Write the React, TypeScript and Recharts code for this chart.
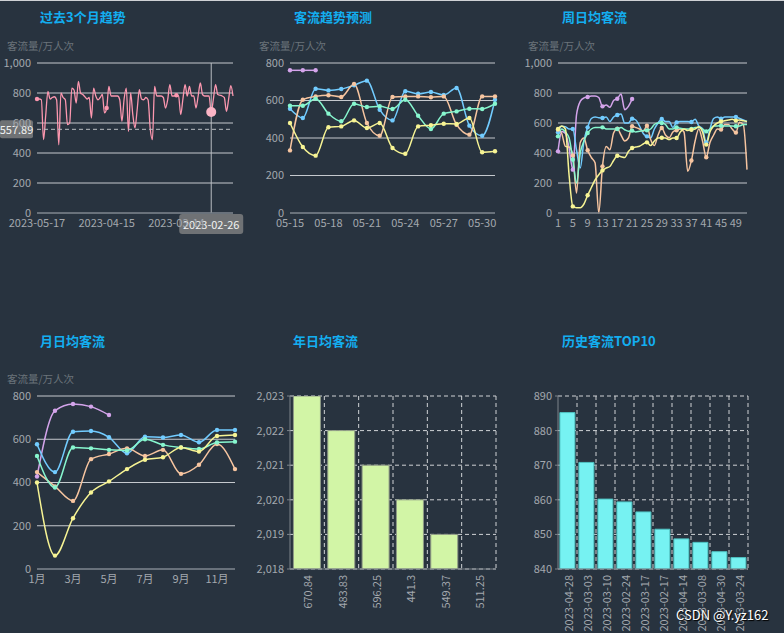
import React from 'react';
import {
  LineChart, Line, BarChart, Bar, XAxis, YAxis, CartesianGrid, ReferenceLine, ReferenceDot,
} from 'recharts';

const FONT = "'Noto Sans CJK SC', 'Noto Sans', sans-serif";
const BG = '#28333f';
const GRID = '#c5c9ce';
const AXIS = '#5d6670';
const TICK = '#a3a8ae';
const TITLE = '#13aef0';
const UNIT = '#6b737b';

const PINK = '#fc97af';
const GREEN = '#87f7cf';
const YELLOW = '#f7f494';
const BLUE = '#72ccff';
const PEACH = '#f7c5a0';
const PURPLE = '#d4a4eb';
const LIME = '#d2f5a6';
const CYAN = '#76f2f2';

// ---------- Chart 1: past 3 months ----------
const startDate = Date.UTC(2023, 4, 17);
const dates1: string[] = [];
for (let i = 0; i < 91; i++) {
  dates1.push(new Date(startDate - i * 86400000).toISOString().slice(0, 10));
}
const values1 = [
  760, 760, 755, 489, 650, 811, 760, 770, 775, 755,
  455, 800, 770, 755, 589, 600, 833, 820, 733, 878,
  800, 790, 775, 760, 770, 633, 833, 780, 755, 770,
  790, 667, 700, 844, 780, 780, 780, 780, 755, 611,
  760, 833, 544, 800, 655, 567, 690, 822, 760, 755,
  770, 755, 560, 489, 844, 780, 780, 780, 770, 700,
  755, 856, 780, 780, 785, 780, 656, 760, 856, 780,
  844, 780, 780, 700, 780, 867, 790, 780, 780, 780,
  673, 760, 856, 790, 785, 780, 770, 678, 760, 849,
  780,
];
const pointerDate = '2023-02-26';
const pointerValue = 673;
const pointerY = 557.89;
const data1 = dates1.map((d, i) => ({ d, v: values1[i] }));

// ---------- Chart 2: forecast ----------
const days2 = ['05-15', '05-16', '05-17', '05-18', '05-19', '05-20', '05-21', '05-22', '05-23', '05-24', '05-25', '05-26', '05-27', '05-28', '05-29', '05-30', '05-31'];
const purple2 = [761, 761, 761];
const blue2 = [556, 507, 663, 654, 661, 681, 706, 551, 494, 649, 636, 645, 629, 667, 466, 412, 604];
const peach2 = [334, 604, 622, 628, 619, 688, 480, 412, 619, 622, 622, 617, 622, 471, 418, 622, 622];
const green2 = [572, 572, 610, 530, 489, 583, 565, 569, 555, 604, 519, 448, 530, 542, 556, 555, 583];
const yellow2 = [480, 352, 306, 457, 462, 494, 453, 480, 347, 316, 462, 468, 476, 475, 507, 324, 329];

// ---------- Chart 3: weekly ----------
const weeks3 = Array.from({ length: 52 }, (_, i) => String(i + 1));
const purple3 = [411, 544, 530, 430, 289, 655, 744, 767, 773, 780, 780, 770, 711, 720, 705, 750, 762, 793, 689, 711, 760];
const blue3 = [538, 578, 575, 560, 560, 420, 300, 480, 571, 630, 640, 635, 633, 640, 610, 640, 653, 660, 600, 600, 629, 620, 580, 530, 511, 500, 560, 600, 627, 610, 610, 570, 604, 610, 610, 610, 607, 625, 580, 560, 471, 560, 630, 640, 629, 640, 640, 640, 640, 630, 620, 610];
const peach3 = [556, 530, 444, 440, 384, 133, 470, 500, 418, 370, 335, 0, 311, 444, 422, 533, 562, 520, 480, 500, 578, 570, 560, 545, 582, 490, 450, 520, 567, 520, 502, 540, 552, 560, 540, 278, 350, 480, 560, 480, 372, 470, 520, 560, 556, 590, 590, 560, 536, 605, 590, 289];
const green3 = [511, 560, 540, 500, 356, 200, 400, 480, 533, 560, 570, 570, 571, 560, 560, 560, 560, 570, 555, 545, 549, 540, 545, 550, 551, 560, 590, 600, 600, 590, 560, 560, 571, 565, 560, 560, 560, 570, 570, 560, 544, 560, 580, 580, 582, 580, 580, 580, 578, 580, 590, 590];
const yellow3 = [560, 580, 560, 250, 44, 35, 35, 60, 118, 170, 220, 255, 284, 300, 310, 350, 382, 375, 370, 410, 433, 440, 445, 460, 471, 450, 480, 500, 502, 500, 490, 500, 500, 540, 560, 550, 555, 560, 575, 540, 456, 540, 580, 600, 610, 615, 620, 625, 616, 620, 615, 610];

// ---------- Chart 4: monthly ----------
const months4 = ['1月', '2月', '3月', '4月', '5月', '6月', '7月', '8月', '9月', '10月', '11月', '12月'];
const purple4 = [428, 732, 763, 751, 712];
const blue4 = [577, 448, 635, 638, 609, 535, 612, 608, 620, 586, 643, 643];
const peach4 = [448, 382, 315, 508, 532, 558, 523, 551, 440, 482, 578, 462];
const green4 = [523, 377, 562, 558, 551, 548, 600, 574, 562, 555, 585, 589];
const yellow4 = [400, 62, 235, 354, 405, 462, 505, 517, 562, 543, 615, 620];

// ---------- Chart 5: yearly ----------
const avg5 = ['670.84', '483.83', '596.25', '441.3', '549.37', '511.25'];
const years5 = [2023, 2022, 2021, 2020, 2019, 2018];

// ---------- Chart 6: top10 ----------
const top6Dates = ['2023-04-28', '2023-03-03', '2023-03-10', '2023-02-24', '2023-03-17', '2023-02-17', '2023-04-14', '2023-03-08', '2023-04-30', '2023-03-24'];
const top6Values = [885.2, 870.8, 860.2, 859.4, 856.5, 851.5, 848.7, 847.7, 845.0, 843.3];

const build = (cats: string[], key: string, series: Record<string, number[]>) =>
  cats.map((c, i) => {
    const row: Record<string, any> = { [key]: c };
    Object.keys(series).forEach((k) => {
      const v = series[k][i];
      row[k] = v === undefined ? null : v;
    });
    return row;
  });

const data2 = build(days2, 'd', { p: purple2, b: blue2, o: peach2, g: green2, y: yellow2 });
const data3 = build(weeks3, 'd', { p: purple3, b: blue3, o: peach3, g: green3, y: yellow3 });
const data4 = build(months4, 'd', { p: purple4, b: blue4, o: peach4, g: green4, y: yellow4 });
const data5 = avg5.map((a, i) => ({ a, v: years5[i] }));
const data6 = top6Dates.map((a, i) => ({ a, v: top6Values[i] }));

const fmt = (v: number) => v.toLocaleString('en-US');
const tickStyle = { fill: TICK, fontSize: 11, fontFamily: FONT };

const seriesDefs = [
  { k: 'p', c: PURPLE },
  { k: 'b', c: BLUE },
  { k: 'o', c: PEACH },
  { k: 'g', c: GREEN },
  { k: 'y', c: YELLOW },
];

const Title = ({ x, y, text }: { x: number; y: number; text: string }) => (
  <div style={{ position: 'absolute', left: x, top: y, color: TITLE, fontSize: 13, fontWeight: 700, fontFamily: FONT, whiteSpace: 'nowrap', lineHeight: '18px' }}>{text}</div>
);
const Unit = ({ x, y }: { x: number; y: number }) => (
  <div style={{ position: 'absolute', left: x, top: y, color: UNIT, fontSize: 10.5, fontFamily: FONT, whiteSpace: 'nowrap', lineHeight: '14px' }}>客流量/万人次</div>
);

const everyNthDot = (color: string, n: number) => (p: any) => {
  if (p.value === null || p.value === undefined || p.cx == null || p.index % n !== 0) return <g key={`e${p.index}`} />;
  return <circle key={`c${p.index}`} cx={p.cx} cy={p.cy} r={2.2} fill={color} stroke="none" />;
};
const someDots = (color: string, idx: number[]) => (p: any) => {
  if (!idx.includes(p.index)) return <g key={`e${p.index}`} />;
  return <circle key={`c${p.index}`} cx={p.cx} cy={p.cy} r={2.2} fill={color} stroke="none" />;
};

const YPointerLabel = (props: any) => {
  const { viewBox } = props;
  const y = viewBox.y;
  return (
    <g>
      <rect x={0} y={y - 9} width={33} height={18} rx={2} fill="#6f7275" />
      <text x={16.5} y={y} textAnchor="middle" dominantBaseline="central" fill="#f2f2f2" fontSize={11} fontFamily={FONT}>{pointerY}</text>
    </g>
  );
};
const XPointerLabel = (props: any) => {
  const { viewBox } = props;
  const x = viewBox.x;
  const y = viewBox.y + viewBox.height + 1;
  return (
    <g>
      <rect x={x - 32} y={y} width={64} height={20} rx={3} fill="#6f7275" />
      <text x={x} y={y + 10} textAnchor="middle" dominantBaseline="central" fill="#f2f2f2" fontSize={11} fontFamily={FONT}>{pointerDate}</text>
    </g>
  );
};

const RotTick = (props: any) => {
  const { x, y, payload } = props;
  return (
    <text x={x} y={y} transform={`rotate(-90 ${x} ${y})`} textAnchor="end" dominantBaseline="central" fill={TICK} fontSize={11} fontFamily={FONT}>{payload.value}</text>
  );
};

const boundaryLines = (n: number) => (args: any) => {
  const off = args.offset;
  const xs: number[] = [];
  for (let i = 1; i <= n; i++) xs.push(off.left + (off.width * i) / n);
  return xs;
};

function Multi({ left, top, W, H, plotL, plotT, plotR, plotB, data, max, ticks, interval, dotMode }: any) {
  return (
    <div style={{ position: 'absolute', left, top, width: W, height: H }}>
      <LineChart width={W} height={H} data={data} margin={{ top: plotT - top, right: left + W - plotR, bottom: 0, left: 0 }}>
        <CartesianGrid vertical={false} stroke={GRID} />
        <XAxis dataKey="d" height={top + H - plotB} interval={interval} tickLine={false} axisLine={{ stroke: AXIS }} tick={tickStyle} tickSize={0} tickMargin={6} />
        <YAxis width={plotL - left} domain={[0, max]} ticks={ticks} tickFormatter={fmt} axisLine={false} tickLine={false} tick={tickStyle} tickSize={0} tickMargin={6} />
        {seriesDefs.map((s) => (
          <Line
            key={s.k}
            type="monotone"
            dataKey={s.k}
            stroke={s.c}
            strokeWidth={1.5}
            dot={dotMode === 'all' ? { r: 2.2, fill: s.c, stroke: 'none' } : everyNthDot(s.c, 4)}
            activeDot={false}
            isAnimationActive={false}
            connectNulls={false}
          />
        ))}
      </LineChart>
    </div>
  );
}

function BarPanel({ left, top, W, H, plotL, plotT, plotR, plotB, data, domain, ticks, fill, stroke, n }: any) {
  return (
    <div style={{ position: 'absolute', left, top, width: W, height: H }}>
      <BarChart width={W} height={H} data={data} barCategoryGap="10%" margin={{ top: plotT - top, right: left + W - plotR, bottom: 0, left: 0 }}>
        <CartesianGrid stroke="#d0d3d6" strokeDasharray="4 3" verticalCoordinatesGenerator={boundaryLines(n)} />
        <XAxis dataKey="a" height={top + H - plotB} interval={0} tickLine={false} axisLine={{ stroke: '#7d848b' }} tick={<RotTick />} tickSize={0} tickMargin={6} />
        <YAxis width={plotL - left} domain={domain} ticks={ticks} tickFormatter={fmt} allowDataOverflow axisLine={{ stroke: '#7d848b' }} tickLine={{ stroke: '#7d848b' }} tick={tickStyle} tickSize={3} tickMargin={3} />
        <Bar dataKey="v" fill={fill} stroke={stroke} strokeWidth={1} isAnimationActive={false} />
      </BarChart>
    </div>
  );
}

export default function App() {
  return (
    <div style={{ position: 'absolute', left: 0, top: 0, width: 784, height: 633, background: BG, overflow: 'hidden', fontFamily: FONT }}>
      <div style={{ position: 'absolute', left: 0, top: 0, width: 784, height: 1, background: '#cfd2d5' }} />

      {/* Chart 1 */}
      <div style={{ position: 'absolute', left: 0, top: 0, width: 260, height: 240 }}>
        <LineChart width={260} height={240} data={data1} margin={{ top: 63, right: 27, bottom: 0, left: 0 }}>
          <CartesianGrid vertical={false} stroke={GRID} />
          <XAxis dataKey="d" height={27} interval={31} tickLine={false} axisLine={{ stroke: AXIS }} tick={tickStyle} tickSize={0} tickMargin={6} />
          <YAxis width={37} domain={[0, 1000]} ticks={[0, 200, 400, 600, 800, 1000]} tickFormatter={fmt} axisLine={false} tickLine={false} tick={tickStyle} tickSize={0} tickMargin={6} />
          <Line type="monotone" dataKey="v" stroke={PINK} strokeWidth={1.3} dot={someDots(PINK, [0, 32, 64])} activeDot={false} isAnimationActive={false} />
          <ReferenceLine y={pointerY} stroke="#b9bdc2" strokeDasharray="4 3" label={<YPointerLabel />} />
          <ReferenceLine x={pointerDate} stroke="#b9bdc2" label={<XPointerLabel />} />
          <ReferenceDot x={pointerDate} y={pointerValue} r={5} fill="#fbb4c5" stroke="none" />
        </LineChart>
      </div>

      <Multi left={255} top={0} W={260} H={240} plotL={290} plotT={63} plotR={495} plotB={213} data={data2} max={800} ticks={[0, 200, 400, 600, 800]} interval={2} dotMode="all" />
      <Multi left={515} top={0} W={269} H={240} plotL={558} plotT={63} plotR={747} plotB={213} data={data3} max={1000} ticks={[0, 200, 400, 600, 800, 1000]} interval={3} dotMode="nth" />
      <Multi left={0} top={320} W={260} H={313} plotL={37} plotT={396} plotR={235} plotB={569} data={data4} max={800} ticks={[0, 200, 400, 600, 800]} interval={1} dotMode="all" />

      <BarPanel left={255} top={320} W={260} H={313} plotL={290} plotT={396} plotR={496} plotB={569} data={data5} domain={[2018, 2023]} ticks={[2018, 2019, 2020, 2021, 2022, 2023]} fill={LIME} stroke="#8f9a86" n={6} />
      <BarPanel left={515} top={320} W={269} H={313} plotL={558} plotT={396} plotR={748} plotB={569} data={data6} domain={[840, 890]} ticks={[840, 850, 860, 870, 880, 890]} fill={CYAN} stroke="#4fc3c3" n={10} />

      <Title x={40} y={8} text="过去3个月趋势" />
      <Title x={294} y={8} text="客流趋势预测" />
      <Title x={562} y={8} text="周日均客流" />
      <Title x={40} y={332} text="月日均客流" />
      <Title x={293} y={332} text="年日均客流" />
      <Title x={562} y={332} text="历史客流TOP10" />

      <Unit x={7} y={39} />
      <Unit x={259} y={39} />
      <Unit x={528} y={39} />
      <Unit x={7} y={372} />

      <div style={{ position: 'absolute', left: 676, top: 605, color: '#ffffff', fontSize: 13, fontFamily: FONT, textShadow: '1px 1px 1px #000', whiteSpace: 'nowrap' }}>CSDN @Y.yz162</div>
    </div>
  );
}
